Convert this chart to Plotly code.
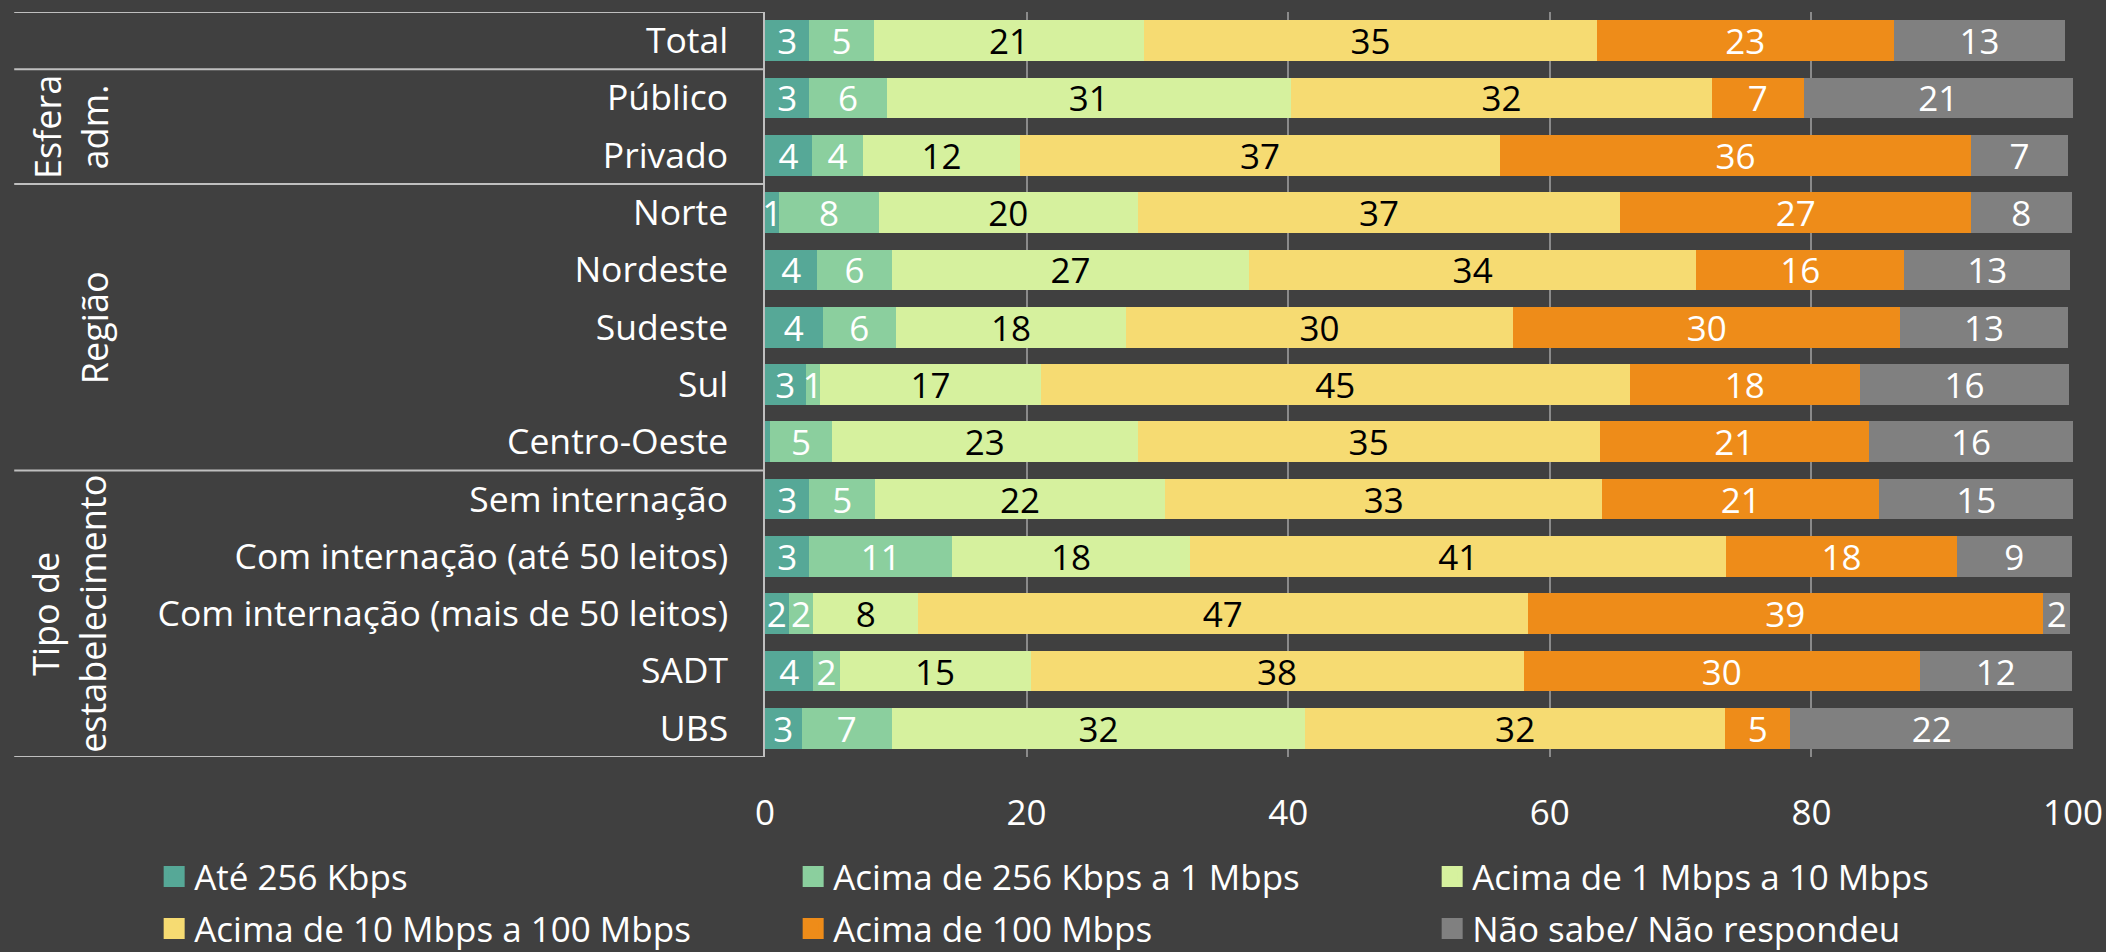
import plotly.graph_objects as go

categories = [
    "Total", "Público", "Privado", "Norte", "Nordeste", "Sudeste", "Sul",
    "Centro-Oeste", "Sem internação", "Com internação (até 50 leitos)",
    "Com internação (mais de 50 leitos)", "SADT", "UBS",
]

series_names = [
    "Até 256 Kbps",
    "Acima de 256 Kbps a 1 Mbps",
    "Acima de 1 Mbps a 10 Mbps",
    "Acima de 10 Mbps a 100 Mbps",
    "Acima de 100 Mbps",
    "Não sabe/ Não respondeu",
]

ate_256k = [3.4, 3.4, 3.6, 1.1, 4.0, 4.4, 3.1, 0.4, 3.4, 3.4, 1.8, 3.7, 2.8]
de_256k_1m = [4.9, 5.9, 3.9, 7.6, 5.7, 5.6, 1.1, 4.7, 5.0, 10.9, 1.9, 2.0, 6.9]
de_1m_10m = [20.7, 30.9, 12.0, 19.8, 27.3, 17.6, 16.9, 23.4, 22.2, 18.2, 8.0, 14.6, 31.6]
de_10m_100m = [34.6, 32.2, 36.7, 36.9, 34.2, 29.6, 45.0, 35.3, 33.4, 41.0, 46.6, 37.7, 32.1]
acima_100m = [22.7, 7.0, 36.0, 26.8, 15.9, 29.6, 17.6, 20.6, 21.2, 17.6, 39.4, 30.3, 5.0]
nao_sabe = [13.1, 20.6, 7.4, 7.7, 12.7, 12.8, 16.0, 15.6, 14.8, 8.8, 2.1, 11.6, 21.6]

series_values = [ate_256k, de_256k_1m, de_1m_10m, de_10m_100m, acima_100m, nao_sabe]
colors = ["#56A897", "#8BCF9E", "#D6F19E", "#F6DB72", "#EE8C19", "#808080"]
text_colors = ["white", "white", "black", "black", "white", "white"]
legend_ids = ["legend", "legend", "legend", "legend2", "legend2", "legend2"]

x_ticks = [0, 20, 40, 60, 80, 100]

groups = [
    ("Esfera<br>adm.", 1.5, -0.531),
    ("Região", 5, -0.513),
    ("Tipo de<br>estabelecimento", 10, -0.532),
]
separators = [-0.5, 0.5, 2.5, 7.5, 12.5]

FONT = "Open Sans"
BG = "#404040"

fig = go.Figure()
for name, vals, col, tcol in zip(series_names, series_values, colors, text_colors):
    fig.add_trace(go.Bar(
        y=categories, x=vals, orientation="h", name=name,
        marker=dict(color=col, line=dict(width=0)),
        text=[f"{round(v)}" if v >= 0.5 else "" for v in vals],
        textposition="inside", insidetextanchor="middle", textangle=0,
        constraintext="none",
        textfont=dict(color=tcol, size=35, family=FONT),
        showlegend=False, hoverinfo="skip",
    ))

# legend entries (square swatches, no data)
for name, col, lg in zip(series_names, colors, legend_ids):
    fig.add_trace(go.Scatter(
        x=[None], y=[None], mode="markers", name=name, legend=lg,
        marker=dict(symbol="square", size=16, color=col, line=dict(color=col, width=5)),
        hoverinfo="skip",
    ))

shapes = [
    dict(type="line", xref="paper", yref="y", x0=-0.574, x1=0, y0=s, y1=s,
         line=dict(color="#BFBFBF", width=2))
    for s in separators
]
annotations = [
    dict(text=t, xref="paper", yref="y", x=x, y=y, showarrow=False, textangle=-90,
         font=dict(size=36, color="white", family=FONT), align="center",
         xanchor="center", yanchor="middle")
    for t, y, x in groups
]

legend_common = dict(
    orientation="h", xanchor="left", yanchor="middle", x=-0.467,
    entrywidth=594, entrywidthmode="pixels", bgcolor="rgba(0,0,0,0)",
    font=dict(size=35, color="white", family=FONT), traceorder="normal",
    itemsizing="trace",
)

fig.update_layout(
    width=2106, height=952,
    margin=dict(l=765, r=33, t=12, b=195, autoexpand=False),
    paper_bgcolor=BG, plot_bgcolor=BG,
    font=dict(family=FONT, color="white", size=35),
    barmode="stack", bargap=0.29,
    shapes=shapes, annotations=annotations,
    legend=dict(legend_common, y=-0.1607),
    legend2=dict(legend_common, y=-0.2306),
    xaxis=dict(range=[0, 100], tickvals=x_ticks, showgrid=True, gridcolor="#8A8A8A",
               gridwidth=1.5, zeroline=False, showline=False, ticks="", automargin=False,
               tickfont=dict(size=35, color="white", family=FONT), ticklabelstandoff=32),
    yaxis=dict(categoryorder="array", categoryarray=categories, range=[12.5, -0.5],
               showgrid=False, zeroline=False, showline=True, linecolor="#BFBFBF", linewidth=1.5,
               ticks="", automargin=False, tickfont=dict(size=35.5, color="white", family=FONT),
               ticklabelstandoff=28),
)

fig.write_html(
    "out.html",
    config={"displayModeBar": False},
    post_script="document.body.style.margin='0px';document.body.style.overflow='hidden';",
)
